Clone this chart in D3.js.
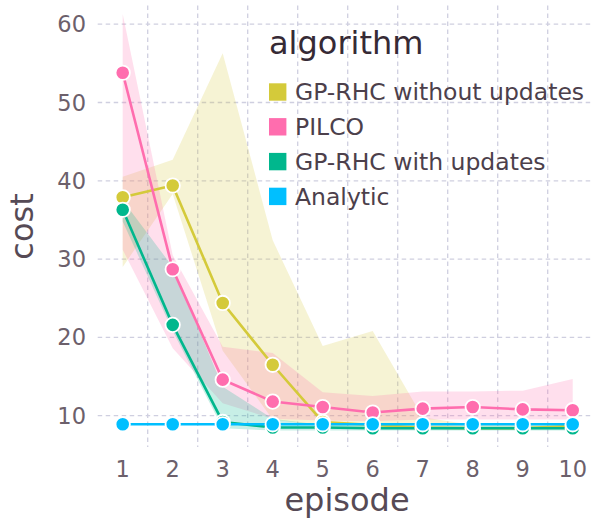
<!DOCTYPE html>
<html>
<head>
<meta charset="utf-8">
<script src="https://cdn.jsdelivr.net/npm/d3@7"></script>
<style>
  body { margin: 0; background: #fff; }
  svg { display: block; font-family: "DejaVu Sans", sans-serif; }
</style>
</head>
<body>
<svg></svg>
<script>
// values
const episodes = [1, 2, 3, 4, 5, 6, 7, 8, 9, 10];
const algorithms = ["GP-RHC without updates", "PILCO", "GP-RHC with updates", "Analytic"];
const colors = ["#D4CA3A", "#FF6DAE", "#00B78D", "#00BFFF"];
const yTicks = [10, 20, 30, 40, 50, 60];

// mean cost per episode
const gpNoUpdMean = [37.9, 39.4, 24.4, 16.5, 9.2, 8.8, 8.5, 8.4, 8.4, 8.7];
const pilcoMean = [53.8, 28.7, 14.6, 11.8, 11.1, 10.4, 10.9, 11.1, 10.8, 10.7];
const gpUpdMean = [36.3, 21.6, 9.2, 8.5, 8.5, 8.4, 8.4, 8.4, 8.4, 8.4];
const analyticMean = [8.9, 8.9, 8.9, 8.9, 8.9, 8.9, 8.9, 8.9, 8.9, 8.9];

// ribbon bounds
const gpNoUpdLow = [29.0, 38.3, 18.3, 9.5, 8.7, 8.4, 8.2, 8.2, 8.2, 8.3];
const gpNoUpdHigh = [40.5, 42.7, 56.3, 32.4, 18.9, 20.8, 9.8, 8.8, 8.8, 9.0];
const pilcoLow = [31.2, 18.6, 11.6, 9.6, 9.4, 9.3, 9.5, 9.5, 9.5, 9.5];
const pilcoHigh = [61.3, 30.5, 18.8, 18.0, 13.0, 12.5, 13.1, 13.1, 13.2, 14.7];
const gpUpdLow = [34.8, 20.8, 8.4, 8.1, 8.1, 8.1, 8.1, 8.1, 8.1, 8.1];
const gpUpdHigh = [37.5, 29.0, 13.7, 9.6, 8.8, 8.7, 8.7, 8.7, 8.7, 8.7];
const analyticLow = [8.8, 8.8, 8.8, 8.8, 8.8, 8.8, 8.8, 8.8, 8.8, 8.8];
const analyticHigh = [9.0, 9.0, 9.0, 9.0, 9.0, 9.0, 9.0, 9.0, 9.0, 9.0];

const means = [gpNoUpdMean, pilcoMean, gpUpdMean, analyticMean];
const lows = [gpNoUpdLow, pilcoLow, gpUpdLow, analyticLow];
const highs = [gpNoUpdHigh, pilcoHigh, gpUpdHigh, analyticHigh];

const width = 591;
const height = 519;

const svg = d3.select("svg")
  .attr("width", width)
  .attr("height", height);

// scales
const xScale = d3.scaleBand()
  .domain(episodes)
  .range([97.7, 597.7]);
const xc = (ep) => xScale(ep) + xScale.bandwidth() / 2;

const yScale = d3.scaleLinear()
  .domain([6, 62.4])
  .range([447, 5.4]);

const gridColor = "#CFCFE0";

// grid lines
svg.append("g")
  .selectAll("line")
  .data(yTicks)
  .enter()
  .append("line")
  .attr("x1", 97.7)
  .attr("x2", 597.7)
  .attr("y1", (d) => yScale(d))
  .attr("y2", (d) => yScale(d))
  .attr("stroke", gridColor)
  .attr("stroke-width", 1.3)
  .attr("stroke-dasharray", "4.5,3.5");

svg.append("g")
  .selectAll("line")
  .data(episodes.slice(1))
  .enter()
  .append("line")
  .attr("x1", (d) => xScale(d))
  .attr("x2", (d) => xScale(d))
  .attr("y1", 5.4)
  .attr("y2", 447)
  .attr("stroke", gridColor)
  .attr("stroke-width", 1.3)
  .attr("stroke-dasharray", "4.5,3.5");

// ribbons
const area = d3.area()
  .x((d) => xc(d.ep))
  .y0((d) => yScale(d.lo))
  .y1((d) => yScale(d.hi));

algorithms.forEach((alg, i) => {
  const pts = episodes.map((ep, j) => ({ ep: ep, lo: lows[i][j], hi: highs[i][j] }));
  svg.append("path")
    .datum(pts)
    .attr("d", area)
    .attr("fill", colors[i])
    .attr("fill-opacity", 0.22);
});

// lines
const line = d3.line()
  .x((d) => xc(d.ep))
  .y((d) => yScale(d.v));

algorithms.forEach((alg, i) => {
  const pts = episodes.map((ep, j) => ({ ep: ep, v: means[i][j] }));
  svg.append("path")
    .datum(pts)
    .attr("d", line)
    .attr("fill", "none")
    .attr("stroke", colors[i])
    .attr("stroke-width", 2.6);
});

// points
algorithms.forEach((alg, i) => {
  const pts = episodes.map((ep, j) => ({ ep: ep, v: means[i][j] }));
  svg.append("g")
    .selectAll("circle")
    .data(pts)
    .enter()
    .append("circle")
    .attr("cx", (d) => xc(d.ep))
    .attr("cy", (d) => yScale(d.v))
    .attr("r", 7.2)
    .attr("fill", colors[i])
    .attr("stroke", "#fff")
    .attr("stroke-width", 1.8);
});

// y tick labels
svg.append("g")
  .selectAll("text")
  .data(yTicks)
  .enter()
  .append("text")
  .attr("x", 86)
  .attr("y", (d) => yScale(d))
  .attr("dy", "0.36em")
  .attr("text-anchor", "end")
  .attr("font-size", 22.5)
  .attr("fill", "#6C606B")
  .text((d) => d);

// x tick labels
svg.append("g")
  .selectAll("text")
  .data(episodes)
  .enter()
  .append("text")
  .attr("x", (d) => xc(d))
  .attr("y", 476.7)
  .attr("text-anchor", "middle")
  .attr("font-size", 22.5)
  .attr("fill", "#6C606B")
  .text((d) => d);

// axis titles
svg.append("text")
  .attr("x", 347)
  .attr("y", 511)
  .attr("text-anchor", "middle")
  .attr("font-size", 32)
  .attr("fill", "#564A55")
  .text("episode");

svg.append("text")
  .attr("transform", "translate(33,226.5) rotate(-90)")
  .attr("text-anchor", "middle")
  .attr("font-size", 32)
  .attr("fill", "#564A55")
  .text("cost");

// legend
const legend = svg.append("g").attr("transform", "translate(269,0)");

legend.append("text")
  .attr("x", 0)
  .attr("y", 54)
  .attr("font-size", 32)
  .attr("fill", "#362A35")
  .text("algorithm");

const keys = legend.selectAll("g.key")
  .data(algorithms)
  .enter()
  .append("g")
  .attr("class", "key")
  .attr("transform", (d, i) => `translate(0,${92 + i * 34.8})`);

keys.append("rect")
  .attr("x", 0)
  .attr("y", -8.7)
  .attr("width", 17.4)
  .attr("height", 17.4)
  .attr("fill", (d, i) => colors[i]);

keys.append("text")
  .attr("x", 26)
  .attr("y", 0)
  .attr("dy", "0.35em")
  .attr("font-size", 23.5)
  .attr("fill", "#4C404B")
  .text((d) => d);
</script>
</body>
</html>
